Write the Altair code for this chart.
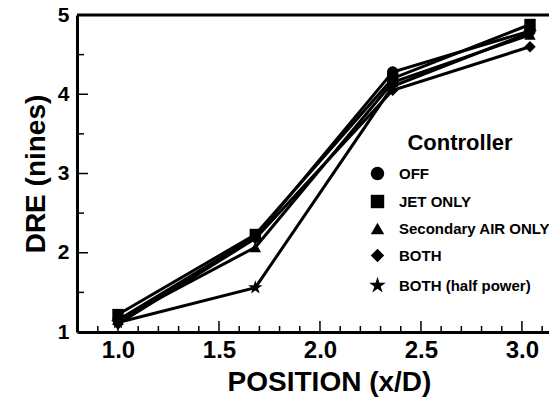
import altair as alt
import pandas as pd

# ---- data ----
positions = [1.0, 1.68, 2.36, 3.04]
series_names = ["OFF", "JET ONLY", "Secondary AIR ONLY", "BOTH", "BOTH (half power)"]
dre_off = [1.15, 2.20, 4.28, 4.80]
dre_jet = [1.22, 2.23, 4.20, 4.88]
dre_sec = [1.15, 2.07, 4.15, 4.75]
dre_both = [1.10, 2.18, 4.05, 4.60]
dre_half = [1.12, 1.56, 4.10, 4.78]

x_major = [1.0, 1.5, 2.0, 2.5, 3.0]
x_minor = [0.9, 1.1, 1.2, 1.3, 1.4, 1.6, 1.7, 1.8, 1.9, 2.1, 2.2, 2.3, 2.4,
           2.6, 2.7, 2.8, 2.9, 3.1]
y_major = [2, 3, 4]
y_minor = [1.5, 2.5, 3.5, 4.5]

X_MIN, X_MAX = 0.797, 3.134
Y_MIN, Y_MAX = 1.0, 5.0

STAR = ("M0,-1.3L0.292,-0.402L1.236,-0.402L0.472,0.153L0.764,1.052L0,0.497"
        "L-0.764,1.052L-0.472,0.153L-1.236,-0.402L-0.292,-0.402Z")
shapes = ["circle", "square", "triangle-up", "diamond", STAR]

rows = []
for name, vals in zip(series_names, [dre_off, dre_jet, dre_sec, dre_both, dre_half]):
    for x, y in zip(positions, vals):
        rows.append({"Controller": name, "pos": x, "dre": y})
df = pd.DataFrame(rows)

W, H = 472, 317
FONT = "Liberation Sans"
xscale = alt.Scale(domain=[X_MIN, X_MAX], nice=False, zero=False)
yscale = alt.Scale(domain=[Y_MIN, Y_MAX], nice=False, zero=False)

# inward tick segments, lengths given in pixels converted to data units
def tick_rows(prefix, vals, length_px, along_x):
    out = []
    for i, v in enumerate(vals):
        tid = f"{prefix}{i}"
        if along_x:
            ln = length_px / H * (Y_MAX - Y_MIN)
            out += [{"id": tid, "a": v, "b": Y_MIN}, {"id": tid, "a": v, "b": Y_MIN + ln}]
        else:
            ln = length_px / W * (X_MAX - X_MIN)
            out += [{"id": tid, "a": X_MIN, "b": v}, {"id": tid, "a": X_MIN + ln, "b": v}]
    return out

tick_df = pd.DataFrame(
    tick_rows("xM", x_major, 11, True) + tick_rows("xm", x_minor, 6, True)
    + tick_rows("yM", y_major, 11, False) + tick_rows("ym", y_minor, 7, False)
)
top_df = pd.DataFrame({"id": ["top", "top"], "a": [X_MIN, X_MAX], "b": [Y_MAX, Y_MAX]})

xaxis = alt.Axis(values=x_major, format=".1f", ticks=False, grid=False,
                 domainColor="black", domainWidth=3, labelFont=FONT,
                 labelFontSize=24, labelFontWeight="bold", labelColor="black",
                 labelPadding=6, title="POSITION (x/D)", titleFont=FONT,
                 titleFontSize=28, titleFontWeight="bold", titleColor="black",
                 titleX=252, titleY=36, titleBaseline="top", titleAnchor="middle")
yaxis = alt.Axis(values=[1, 2, 3, 4, 5], format="d", ticks=False, grid=False,
                 domainColor="black", domainWidth=3, labelFont=FONT,
                 labelFontSize=21, labelFontWeight="bold", labelColor="black",
                 labelPadding=8, title="DRE (nines)", titleFont=FONT,
                 titleFontSize=28, titleFontWeight="bold", titleColor="black",
                 titlePadding=7)

lines = alt.Chart(df).mark_line(color="black", strokeWidth=3).encode(
    x=alt.X("pos:Q", scale=xscale, axis=xaxis),
    y=alt.Y("dre:Q", scale=yscale, axis=yaxis),
    detail="Controller:N",
)

points = alt.Chart(df).mark_point(filled=True, color="black", opacity=1, size=130).encode(
    x=alt.X("pos:Q", scale=xscale),
    y=alt.Y("dre:Q", scale=yscale),
    shape=alt.Shape(
        "Controller:N",
        scale=alt.Scale(domain=series_names, range=shapes),
        legend=alt.Legend(
            orient="none", legendX=293, legendY=118,
            title="Controller", titleFont=FONT, titleFontSize=22,
            titleFontWeight="bold", titleColor="black", titleAnchor="middle",
            titlePadding=11,
            labelFont=FONT, labelFontSize=15, labelFontWeight="bold",
            labelColor="black", labelOffset=14, symbolSize=180,
            symbolFillColor="black", symbolStrokeColor="black",
            symbolType="circle", rowPadding=7,
        ),
    ),
)

ticks = alt.Chart(tick_df).mark_line(color="black", strokeWidth=1.5).encode(
    x=alt.X("a:Q", scale=xscale),
    y=alt.Y("b:Q", scale=yscale),
    detail="id:N",
)

top_border = alt.Chart(top_df).mark_line(color="black", strokeWidth=3).encode(
    x=alt.X("a:Q", scale=xscale),
    y=alt.Y("b:Q", scale=yscale),
    detail="id:N",
)

chart = alt.layer(
    ticks, top_border, lines, points,
).properties(
    width=W, height=H,
    autosize=alt.AutoSizeParams(type="none"),
    padding={"left": 69, "top": 7, "right": 0, "bottom": 66},
    background="white",
).configure_view(stroke=None)

chart.save("out.html", embed_options={"renderer": "svg", "actions": False})
